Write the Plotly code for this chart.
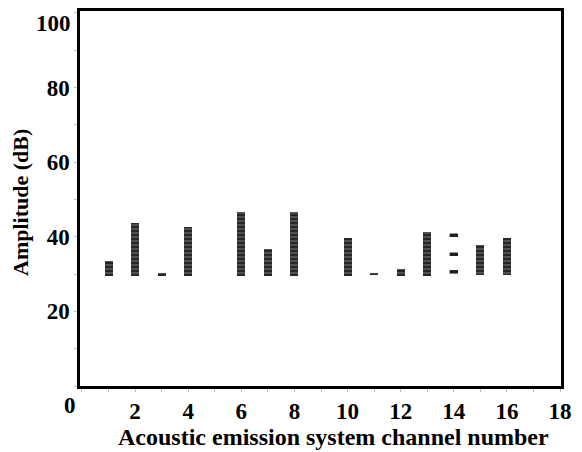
import plotly.graph_objects as go

# Channel numbers with recorded hits (bars)
channels = [1, 2, 3, 4, 6, 7, 8, 10, 11, 12, 13, 15, 16]
amp_low = [29.5, 29.5, 29.6, 29.5, 29.5, 29.5, 29.5, 29.5, 29.7, 29.6, 29.5, 29.8, 29.8]
amp_high = [33.5, 43.6, 30.4, 42.5, 46.6, 36.6, 46.6, 39.6, 30.3, 31.3, 41.4, 37.8, 39.6]

# Channel 14: isolated hits
ch14_x = [14, 14, 14]
ch14_amp = [30.6, 35.3, 40.4]

x_ticks = [2, 4, 6, 8, 10, 12, 14, 16, 18]
y_ticks = [20, 40, 60, 80, 100]

heights = [h - l for h, l in zip(amp_high, amp_low)]

FONT = "Liberation Serif"

# the page body adds an 8px offset, so the figure is sized to the visible area
W, H = 574, 444
L, R, T, B = 72, 21, 3, 66
PW, PH = W - L - R, H - T - B

fig = go.Figure()
fig.add_trace(go.Bar(
    x=channels, y=heights, base=amp_low, width=0.3,
    marker=dict(color="#2e2e2e", line_width=0,
                pattern=dict(shape="-", fgcolor="#7a7a7a", bgcolor="#262626",
                             size=4, solidity=0.25, fillmode="replace")),
    showlegend=False,
))
fig.add_trace(go.Scatter(
    x=ch14_x, y=ch14_amp, mode="markers",
    marker=dict(symbol="line-ew", size=6, line=dict(width=3.5, color="#1e1e1e")),
    showlegend=False,
))

# top tick label is drawn as an annotation so that it stays inside the page
y_ticktext = [str(v) if v != y_ticks[-1] else "" for v in y_ticks]

fig.update_layout(
    width=W, height=H,
    margin=dict(l=L, r=R, t=T, b=B),
    plot_bgcolor="white", paper_bgcolor="white",
    font=dict(family=FONT, color="black"),
    xaxis=dict(
        range=[-0.075, 18.035], tickvals=x_ticks, ticktext=[str(v) for v in x_ticks],
        showgrid=False, zeroline=False, automargin=False, ticklabeloverflow="allow",
        showline=True, linecolor="black", linewidth=2.5, mirror=True,
        ticks="outside", ticklen=3, tickcolor="#bbbbbb", tickwidth=1,
        minor=dict(dtick=1, tick0=0, ticks="outside", ticklen=3, tickcolor="#bbbbbb"),
        tickfont=dict(family=FONT, size=23, weight="bold", color="black"),
    ),
    yaxis=dict(
        range=[0, 100.5], tickvals=y_ticks, ticktext=y_ticktext,
        showgrid=False, zeroline=False, automargin=False, ticklabeloverflow="allow",
        showline=True, linecolor="black", linewidth=2.5, mirror=True,
        ticks="outside", ticklen=3, tickcolor="#bbbbbb", tickwidth=1,
        minor=dict(dtick=10, tick0=0, ticks="outside", ticklen=3, tickcolor="#bbbbbb"),
        tickfont=dict(family=FONT, size=23, weight="bold", color="black"),
    ),
    bargap=0,
)

fig.add_annotation(x=0, y=1, xref="paper", yref="paper", text=str(y_ticks[-1]),
                   showarrow=False, xanchor="right", yanchor="top",
                   xshift=-7, yshift=2,
                   font=dict(family=FONT, size=23, weight="bold", color="black"))

# Axis titles
fig.add_annotation(x=(325.5 - L) / PW, y=(H - B - 429) / PH, xref="paper", yref="paper",
                   text="Acoustic emission system channel number", showarrow=False,
                   xanchor="center", yanchor="middle",
                   font=dict(family=FONT, size=24, weight="bold", color="black"))
fig.add_annotation(x=(12 - L) / PW, y=(H - B - 195) / PH, xref="paper", yref="paper",
                   text="Amplitude (dB)", showarrow=False, textangle=-90,
                   xanchor="center", yanchor="middle",
                   font=dict(family=FONT, size=22, weight="bold", color="black"))

# Shared origin label
fig.add_annotation(x=0, y=0, xref="x", yref="y", text="0", showarrow=False,
                   xanchor="right", yanchor="top", xshift=-4, yshift=-5,
                   font=dict(family=FONT, size=23, weight="bold", color="black"))

fig.write_html("out.html")
